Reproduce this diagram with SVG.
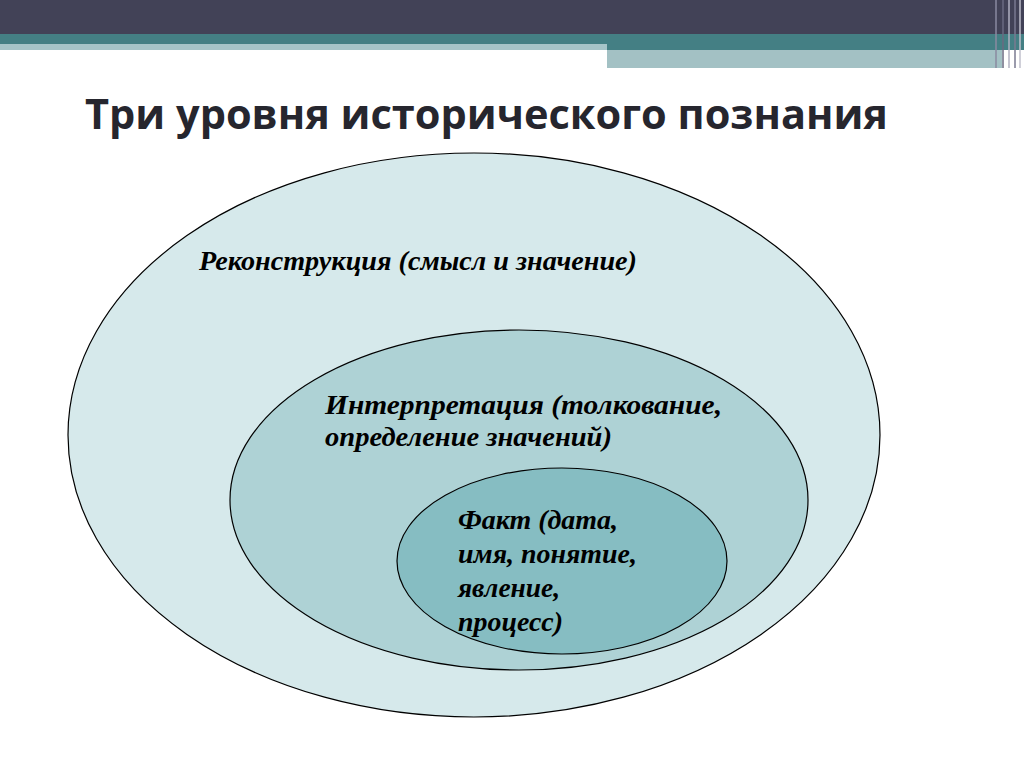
<svg xmlns="http://www.w3.org/2000/svg" width="1024" height="768" viewBox="0 0 1024 768">
<style>
.lbl{font-family:"Liberation Serif","Times New Roman",serif;font-weight:bold;font-style:italic;font-size:27px;fill:#000}
.ell{stroke:#000;stroke-width:1.2}
</style>
<rect width="1024" height="768" fill="#fff"/>
<g id="header">
<rect x="0" y="0" width="1024" height="34" fill="#424257"/>
<rect x="0" y="34" width="1024" height="10" fill="#447f84"/>
<rect x="0" y="44" width="607" height="6" fill="#a6c4c8"/>
<rect x="607" y="44" width="417" height="6" fill="#447f84"/>
<rect x="607" y="50" width="395" height="18" fill="#a3c1c4"/>
<g stroke-width="1.5">
<line x1="996" y1="0" x2="996" y2="68" stroke="#8a8aa0"/>
<line x1="1003" y1="0" x2="1003" y2="68" stroke="#6a6a80"/>
<line x1="1009" y1="0" x2="1009" y2="68" stroke="#b0b0c0"/>
<line x1="1015" y1="0" x2="1015" y2="68" stroke="#7a7a90"/>
<line x1="1020" y1="0" x2="1020" y2="68" stroke="#c0c0cc"/>
</g>
</g>
<text id="title" x="85" y="129" font-family="Open Sans, Liberation Sans, Arial, sans-serif" font-weight="bold" font-size="42" fill="#26262e" textLength="803" lengthAdjust="spacingAndGlyphs">Три уровня исторического познания</text>
<g id="outer">
<ellipse class="ell" cx="474" cy="435" rx="406" ry="282" fill="#d6e9eb"/>
<text class="lbl" x="199" y="270" textLength="438" lengthAdjust="spacingAndGlyphs">Реконструкция (смысл и значение)</text>
</g>
<g id="middle">
<ellipse class="ell" cx="519" cy="500" rx="289" ry="170" fill="#aed2d5"/>
<text class="lbl" x="325" y="414" textLength="397" lengthAdjust="spacingAndGlyphs">Интерпретация (толкование,</text>
<text class="lbl" x="325" y="446" textLength="287" lengthAdjust="spacingAndGlyphs">определение значений)</text>
</g>
<g id="inner">
<ellipse class="ell" cx="562" cy="561" rx="165" ry="93" fill="#86bdc2"/>
<text class="lbl" x="458" y="529" textLength="160" lengthAdjust="spacingAndGlyphs">Факт (дата,</text>
<text class="lbl" x="458" y="563" textLength="179" lengthAdjust="spacingAndGlyphs">имя, понятие,</text>
<text class="lbl" x="458" y="597" textLength="102" lengthAdjust="spacingAndGlyphs">явление,</text>
<text class="lbl" x="458" y="631" textLength="105" lengthAdjust="spacingAndGlyphs">процесс)</text>
</g>
<g id="connectors"/>
</svg>
